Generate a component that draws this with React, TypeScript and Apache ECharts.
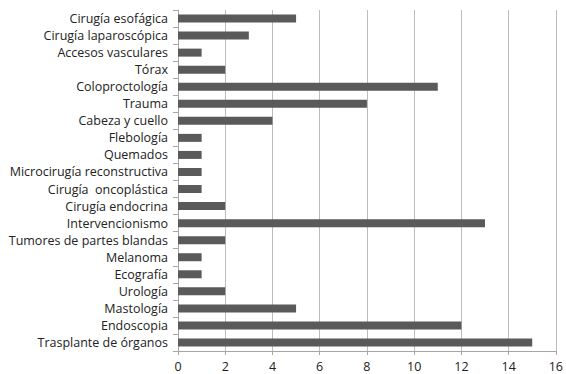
import React, { useEffect, useRef } from "react";
import * as echarts from "echarts";

// Categories listed bottom-to-top (category axis starts at the bottom)
const categories = [
  "Trasplante de órganos",
  "Endoscopia",
  "Mastología",
  "Urología",
  "Ecografía",
  "Melanoma",
  "Tumores de partes blandas",
  "Intervencionismo",
  "Cirugía endocrina",
  "Cirugía  oncoplástica",
  "Microcirugía reconstructiva",
  "Quemados",
  "Flebología",
  "Cabeza y cuello",
  "Trauma",
  "Coloproctología",
  "Tórax",
  "Accesos vasculares",
  "Cirugía laparoscópica",
  "Cirugía esofágica",
];

const values = [15, 12, 5, 2, 1, 1, 2, 13, 2, 1, 1, 1, 1, 4, 8, 11, 2, 1, 3, 5];

const xTicks = { min: 0, max: 16, interval: 2 };

export default function App() {
  const ref = useRef<HTMLDivElement>(null);

  useEffect(() => {
    if (!ref.current) return;
    const chart = echarts.init(ref.current, undefined, { renderer: "svg" });
    const font = "'Open Sans', 'Liberation Sans', sans-serif";
    chart.setOption({
      animation: false,
      backgroundColor: "#ffffff",
      grid: { left: 178, right: 7, top: 10, bottom: 23, containLabel: false },
      xAxis: {
        type: "value",
        min: xTicks.min,
        max: xTicks.max,
        interval: xTicks.interval,
        axisLine: { show: true, lineStyle: { color: "#a6a6a6", width: 1 } },
        axisTick: { show: true, length: 4, lineStyle: { color: "#a6a6a6" } },
        axisLabel: { color: "#222222", fontSize: 12.5, fontFamily: font, margin: 9 },
        splitLine: { show: true, lineStyle: { color: "#bcbcbc", width: 1 } },
      },
      yAxis: {
        type: "category",
        data: categories,
        axisLine: { show: true, lineStyle: { color: "#a6a6a6", width: 1 } },
        axisTick: { show: true, length: 5, lineStyle: { color: "#a6a6a6" }, alignWithLabel: false },
        axisLabel: { color: "#222222", fontSize: 12.5, fontFamily: font, margin: 10 },
        splitLine: { show: false },
      },
      series: [
        {
          type: "bar",
          data: values,
          barWidth: 8,
          itemStyle: { color: "#5a5a5a" },
        },
      ],
    });
    return () => chart.dispose();
  }, []);

  return (
    <div
      ref={ref}
      style={{ position: "fixed", left: 0, top: 0, width: 566, height: 374 }}
    />
  );
}
